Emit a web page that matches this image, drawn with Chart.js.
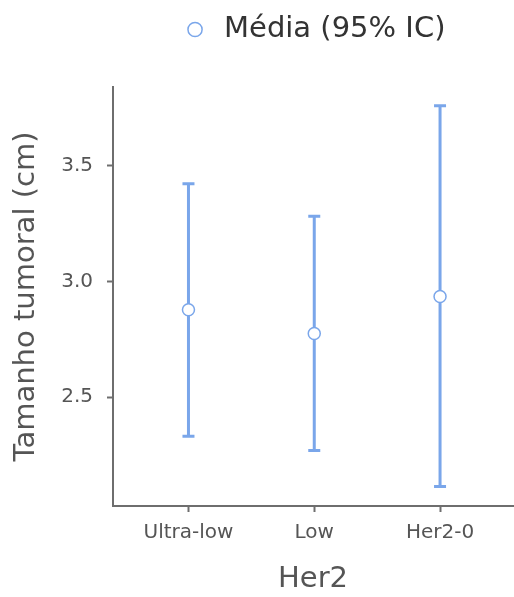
<!DOCTYPE html>
<html>
<head>
<meta charset="utf-8">
<script src="https://cdn.jsdelivr.net/npm/chart.js@4"></script>
<style>
  html, body { margin: 0; padding: 0; background: #fff; }
  #wrap { width: 514px; height: 597px; }
</style>
</head>
<body>
<div id="wrap"><canvas id="meanChart" width="514" height="597"></canvas></div>
<script>
// data
var categories = ['Ultra-low', 'Low', 'Her2-0'];
var means = [2.878, 2.775, 2.935];
var lower = [2.331, 2.270, 2.114];
var upper = [3.422, 3.282, 3.759];
var yTicks = [2.5, 3.0, 3.5];

var blue = '#7aa6ea';
var axisGrey = '#6e6e6e';
var textGrey = '#555555';

// whiskers drawn from the chart's own scales
var errorBars = {
    id: 'errorBars',
    beforeDatasetsDraw: function(chart) {
        var ctx = chart.ctx;
        var xs = chart.scales.x, ys = chart.scales.y;
        ctx.save();
        ctx.strokeStyle = blue;
        ctx.lineWidth = 3;
        for (var i = 0; i < categories.length; i++) {
            var x = xs.getPixelForValue(i);
            var yLo = ys.getPixelForValue(lower[i]);
            var yHi = ys.getPixelForValue(upper[i]);
            ctx.beginPath();
            ctx.moveTo(x, yLo);
            ctx.lineTo(x, yHi);
            ctx.moveTo(x - 6, yLo);
            ctx.lineTo(x + 6, yLo);
            ctx.moveTo(x - 6, yHi);
            ctx.lineTo(x + 6, yHi);
            ctx.stroke();
        }
        ctx.restore();
    }
};

// extra room under the legend, and legend centred over the plot area
var legendSpace = {
    id: 'legendSpace',
    afterInit: function(chart) {
        var lg = chart.legend;
        var fit = lg.fit;
        lg.fit = function() {
            fit.call(this);
            this.height += 33;
        };
    },
    afterLayout: function(chart) {
        chart.legend.left = chart.chartArea.left;
        chart.legend.right = chart.chartArea.right;
    }
};

var ctx = document.getElementById('meanChart').getContext('2d');
var chart = new Chart(ctx, {
    type: 'scatter',
    data: {
        datasets: [{
            label: 'Média (95% IC)',
            data: means.map(function(m, i) { return { x: i, y: m }; }),
            pointStyle: 'circle',
            pointRadius: 6,
            pointBorderWidth: 1.5,
            pointBackgroundColor: '#ffffff',
            pointBorderColor: blue,
            backgroundColor: '#ffffff',
            borderColor: blue
        }]
    },
    options: {
        responsive: false,
        animation: false,
        layout: { autoPadding: false, padding: { top: 3, right: 1, left: 0, bottom: 0 } },
        plugins: {
            legend: {
                display: true,
                position: 'top',
                labels: {
                    usePointStyle: true,
                    boxHeight: 10,
                    padding: 12,
                    color: '#333333',
                    font: { family: 'DejaVu Sans', size: 29 }
                }
            },
            tooltip: { enabled: false }
        },
        scales: {
            x: {
                type: 'linear',
                min: -0.6,
                max: 2.58,
                afterBuildTicks: function(scale) {
                    scale.ticks = categories.map(function(c, i) { return { value: i }; });
                },
                afterFit: function(scale) { scale.height = 91; },
                ticks: {
                    callback: function(v) { return categories[v]; },
                    color: textGrey,
                    font: { family: 'DejaVu Sans', size: 20 },
                    padding: 9
                },
                grid: { drawOnChartArea: false, drawTicks: true, tickLength: 6, tickColor: axisGrey, tickWidth: 2 },
                border: { display: true, color: axisGrey, width: 2 },
                title: {
                    display: true,
                    text: 'Her2',
                    color: textGrey,
                    font: { family: 'DejaVu Sans', size: 29 },
                    padding: { top: 0, bottom: 0 }
                }
            },
            y: {
                min: 2.03,
                max: 3.84,
                afterBuildTicks: function(scale) {
                    scale.ticks = yTicks.map(function(v) { return { value: v }; });
                },
                afterFit: function(scale) { scale.width = 113; },
                ticks: {
                    callback: function(v) { return v.toFixed(1); },
                    color: textGrey,
                    font: { family: 'DejaVu Sans', size: 20 },
                    padding: 14
                },
                grid: { drawOnChartArea: false, drawTicks: true, tickLength: 6, tickColor: axisGrey, tickWidth: 2 },
                border: { display: true, color: axisGrey, width: 2 },
                title: {
                    display: true,
                    text: 'Tamanho tumoral (cm)',
                    color: textGrey,
                    font: { family: 'DejaVu Sans', size: 29 },
                    padding: { top: 9, bottom: 0 }
                }
            }
        }
    },
    plugins: [errorBars, legendSpace]
});
</script>
</body>
</html>
